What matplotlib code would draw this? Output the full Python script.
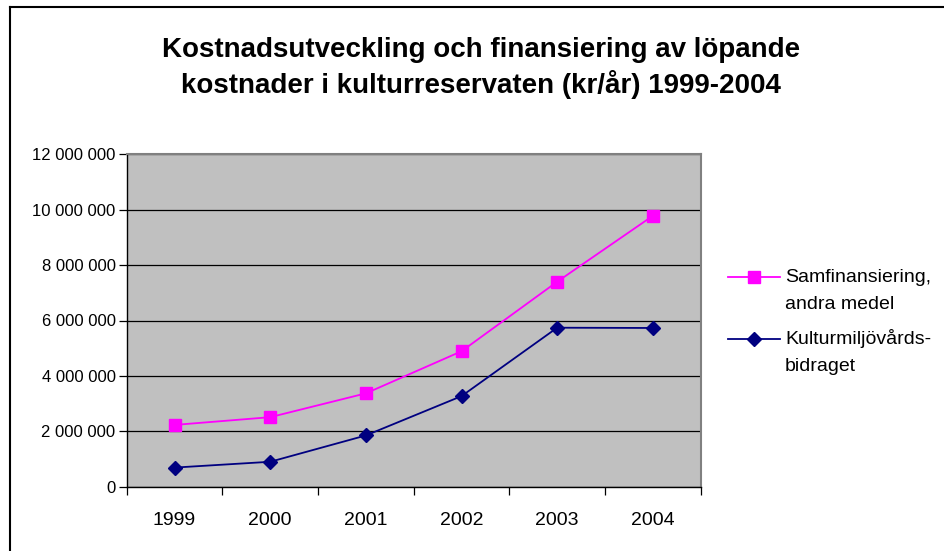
import matplotlib
matplotlib.use("Agg")
import matplotlib.pyplot as plt
from matplotlib.lines import Line2D
from matplotlib.ticker import FuncFormatter, FixedLocator

years = ["1999", "2000", "2001", "2002", "2003", "2004"]
samfinansiering = [2230000, 2510000, 3370000, 4890000, 7400000, 9780000]
kulturmiljo = [690000, 900000, 1850000, 3270000, 5740000, 5730000]
title = "Kostnadsutveckling och finansiering av löpande\nkostnader i kulturreservaten (kr/år) 1999-2004"
label_sam = ["Samfinansiering,", "andra medel"]
label_kul = ["Kulturmiljövårds-", "bidraget"]

plt.rcParams['font.family'] = ['Liberation Sans', 'DejaVu Sans']

W, H = 944, 551
fig = plt.figure(figsize=(W / 100, H / 100), dpi=100)
fig.patch.set_facecolor("white")

def fx(px):
    return px / W

def fy(py):
    return 1 - py / H

# plot area in pixels
l, r, t, b = 126.7, 700.7, 154.3, 486.7
ax = fig.add_axes([fx(l), fy(b), (r - l) / W, (b - t) / H])
ax.set_facecolor("#C0C0C0")

PINK, NAVY = "#FF00FF", "#000080"
x = list(range(len(years)))
ax.plot(x, samfinansiering, color=PINK, lw=1.3, marker="s", ms=8,
        mfc=PINK, mec=PINK, zorder=4)
ax.plot(x, kulturmiljo, color=NAVY, lw=1.3, marker="D", ms=7.5,
        mfc=NAVY, mec=NAVY, zorder=4)

ax.set_xlim(-0.5, len(years) - 0.5)
ax.set_ylim(0, 12000000)
ax.set_yticks(range(0, 12000001, 2000000))
ax.yaxis.set_major_formatter(FuncFormatter(lambda v, p: f"{int(v):,}".replace(",", " ")))
ax.yaxis.grid(True, color="black", lw=0.9)
ax.set_axisbelow(True)

ax.set_xticks(x)
ax.set_xticklabels(years)
ax.xaxis.set_minor_locator(FixedLocator([i - 0.5 for i in range(len(years) + 1)]))
ax.tick_params(axis="x", which="major", length=0, pad=18, labelsize=14)
ax.tick_params(axis="x", which="minor", length=6, width=0.9, direction="out", color="black")
ax.tick_params(axis="y", length=6, width=0.9, direction="out", labelsize=12, pad=2, color="black")

for s in ["top", "right"]:
    ax.spines[s].set_color("#808080")
    ax.spines[s].set_linewidth(1.5)
for s in ["left", "bottom"]:
    ax.spines[s].set_color("black")
    ax.spines[s].set_linewidth(1.0)

fig.text(fx(481), fy(68), title, ha="center", va="center", fontsize=20,
         fontweight="bold", linespacing=1.33)

# legend (drawn manually to match spacing)
legend_items = [(PINK, "s", 8, label_sam, 277), (NAVY, "D", 7.5, label_kul, 339)]
for color, mk, ms, lines, ycen in legend_items:
    fig.add_artist(Line2D([fx(728), fx(780)], [fy(ycen), fy(ycen)], color=color,
                          lw=1.3, transform=fig.transFigure))
    fig.add_artist(Line2D([fx(753.5)], [fy(ycen)], color=color, marker=mk, ms=ms,
                          mfc=color, mec=color, transform=fig.transFigure))
    for i, txt in enumerate(lines):
        fig.text(fx(785), fy(ycen + i * 27.5), txt, ha="left", va="center",
                 fontsize=14)

# chart border (top and left visible)
fig.add_artist(Line2D([fx(9.5), 1], [fy(7), fy(7)], color="black", lw=1.5,
                      transform=fig.transFigure))
fig.add_artist(Line2D([fx(9.5), fx(9.5)], [0, fy(7)], color="black", lw=1.5,
                      transform=fig.transFigure))

fig.savefig("out.png", dpi=100)
